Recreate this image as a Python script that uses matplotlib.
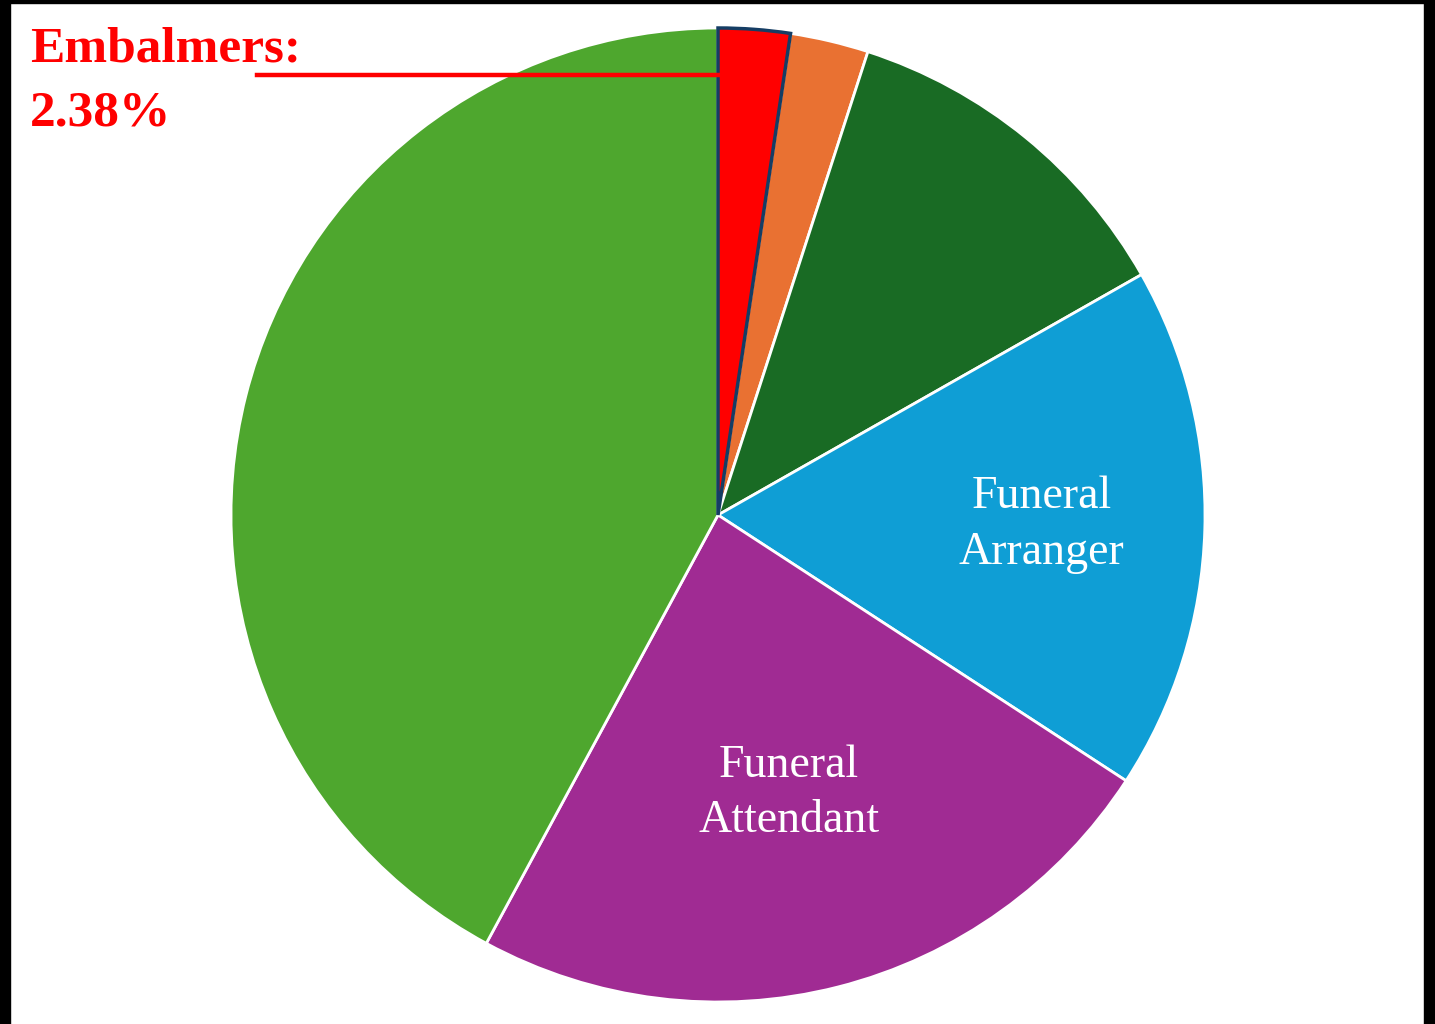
import numpy as np
import matplotlib
matplotlib.use("Agg")
import matplotlib.pyplot as plt
from matplotlib.patches import Rectangle

# slice data, clockwise from 12 o'clock
categories = ["Embalmers", "Other", "Funeral Director", "Funeral Arranger",
              "Funeral Attendant", "Administration"]
shares = [2.38, 2.6, 11.8, 17.4, 23.7, 42.1]
colors = ["#FF0000", "#E97132", "#196B24", "#0F9ED5", "#A02B93", "#4EA72E"]
inner_labels = ["", "", "", "Funeral\nArranger", "Funeral\nAttendant", ""]
label_dist = [0, 0, 0, 0.665, 0.59, 0]

W, H = 1435, 1024
fig = plt.figure(figsize=(W / 100, H / 100), dpi=100)
fig.patch.set_facecolor("white")

# pie centre (718, 515) px, radius 487 px
cx, cy, r = 718, 515, 487
ax = fig.add_axes([(cx - r) / W, (H - cy - r) / H, 2 * r / W, 2 * r / H])

wedges, _ = ax.pie(shares, colors=colors, startangle=90, counterclock=False,
                   radius=1, wedgeprops=dict(edgecolor="white", linewidth=2))
ax.set_xlim(-1, 1)
ax.set_ylim(-1, 1)
ax.set_aspect("equal")
ax.axis("off")
# highlighted slice outline
wedges[0].set_edgecolor("#153D64")
wedges[0].set_linewidth(2.5)
wedges[0].set_zorder(3)

for w, lab, d in zip(wedges, inner_labels, label_dist):
    if not lab:
        continue
    mid = np.deg2rad((w.theta1 + w.theta2) / 2)
    ax.text(d * np.cos(mid), d * np.sin(mid), lab, ha="center", va="center",
            color="white", fontsize=33, family="Liberation Serif",
            linespacing=1.4)

# callout for Embalmers
fig.text(30 / W, 1 - 62 / H, "Embalmers:", color="#FF0000", fontsize=37,
         fontweight="bold", family="Liberation Serif", ha="left", va="baseline")
fig.text(30 / W, 1 - 125 / H, f"{shares[0]:.2f}%", color="#FF0000", fontsize=37,
         fontweight="bold", family="Liberation Serif", ha="left", va="baseline")
fig.add_artist(plt.Line2D([257 / W, 720 / W], [1 - 75 / H, 1 - 75 / H],
                          color="#FF0000", linewidth=3.2, zorder=5))

# black frame edges
for x0, y0, w0, h0 in [(0, 0, 10, H), (1424, 0, 11, H), (0, 0, W, 3)]:
    fig.add_artist(Rectangle((x0 / W, 1 - (y0 + h0) / H), w0 / W, h0 / H,
                             transform=fig.transFigure, color="black", zorder=10))

fig.savefig("out.png", dpi=100)
